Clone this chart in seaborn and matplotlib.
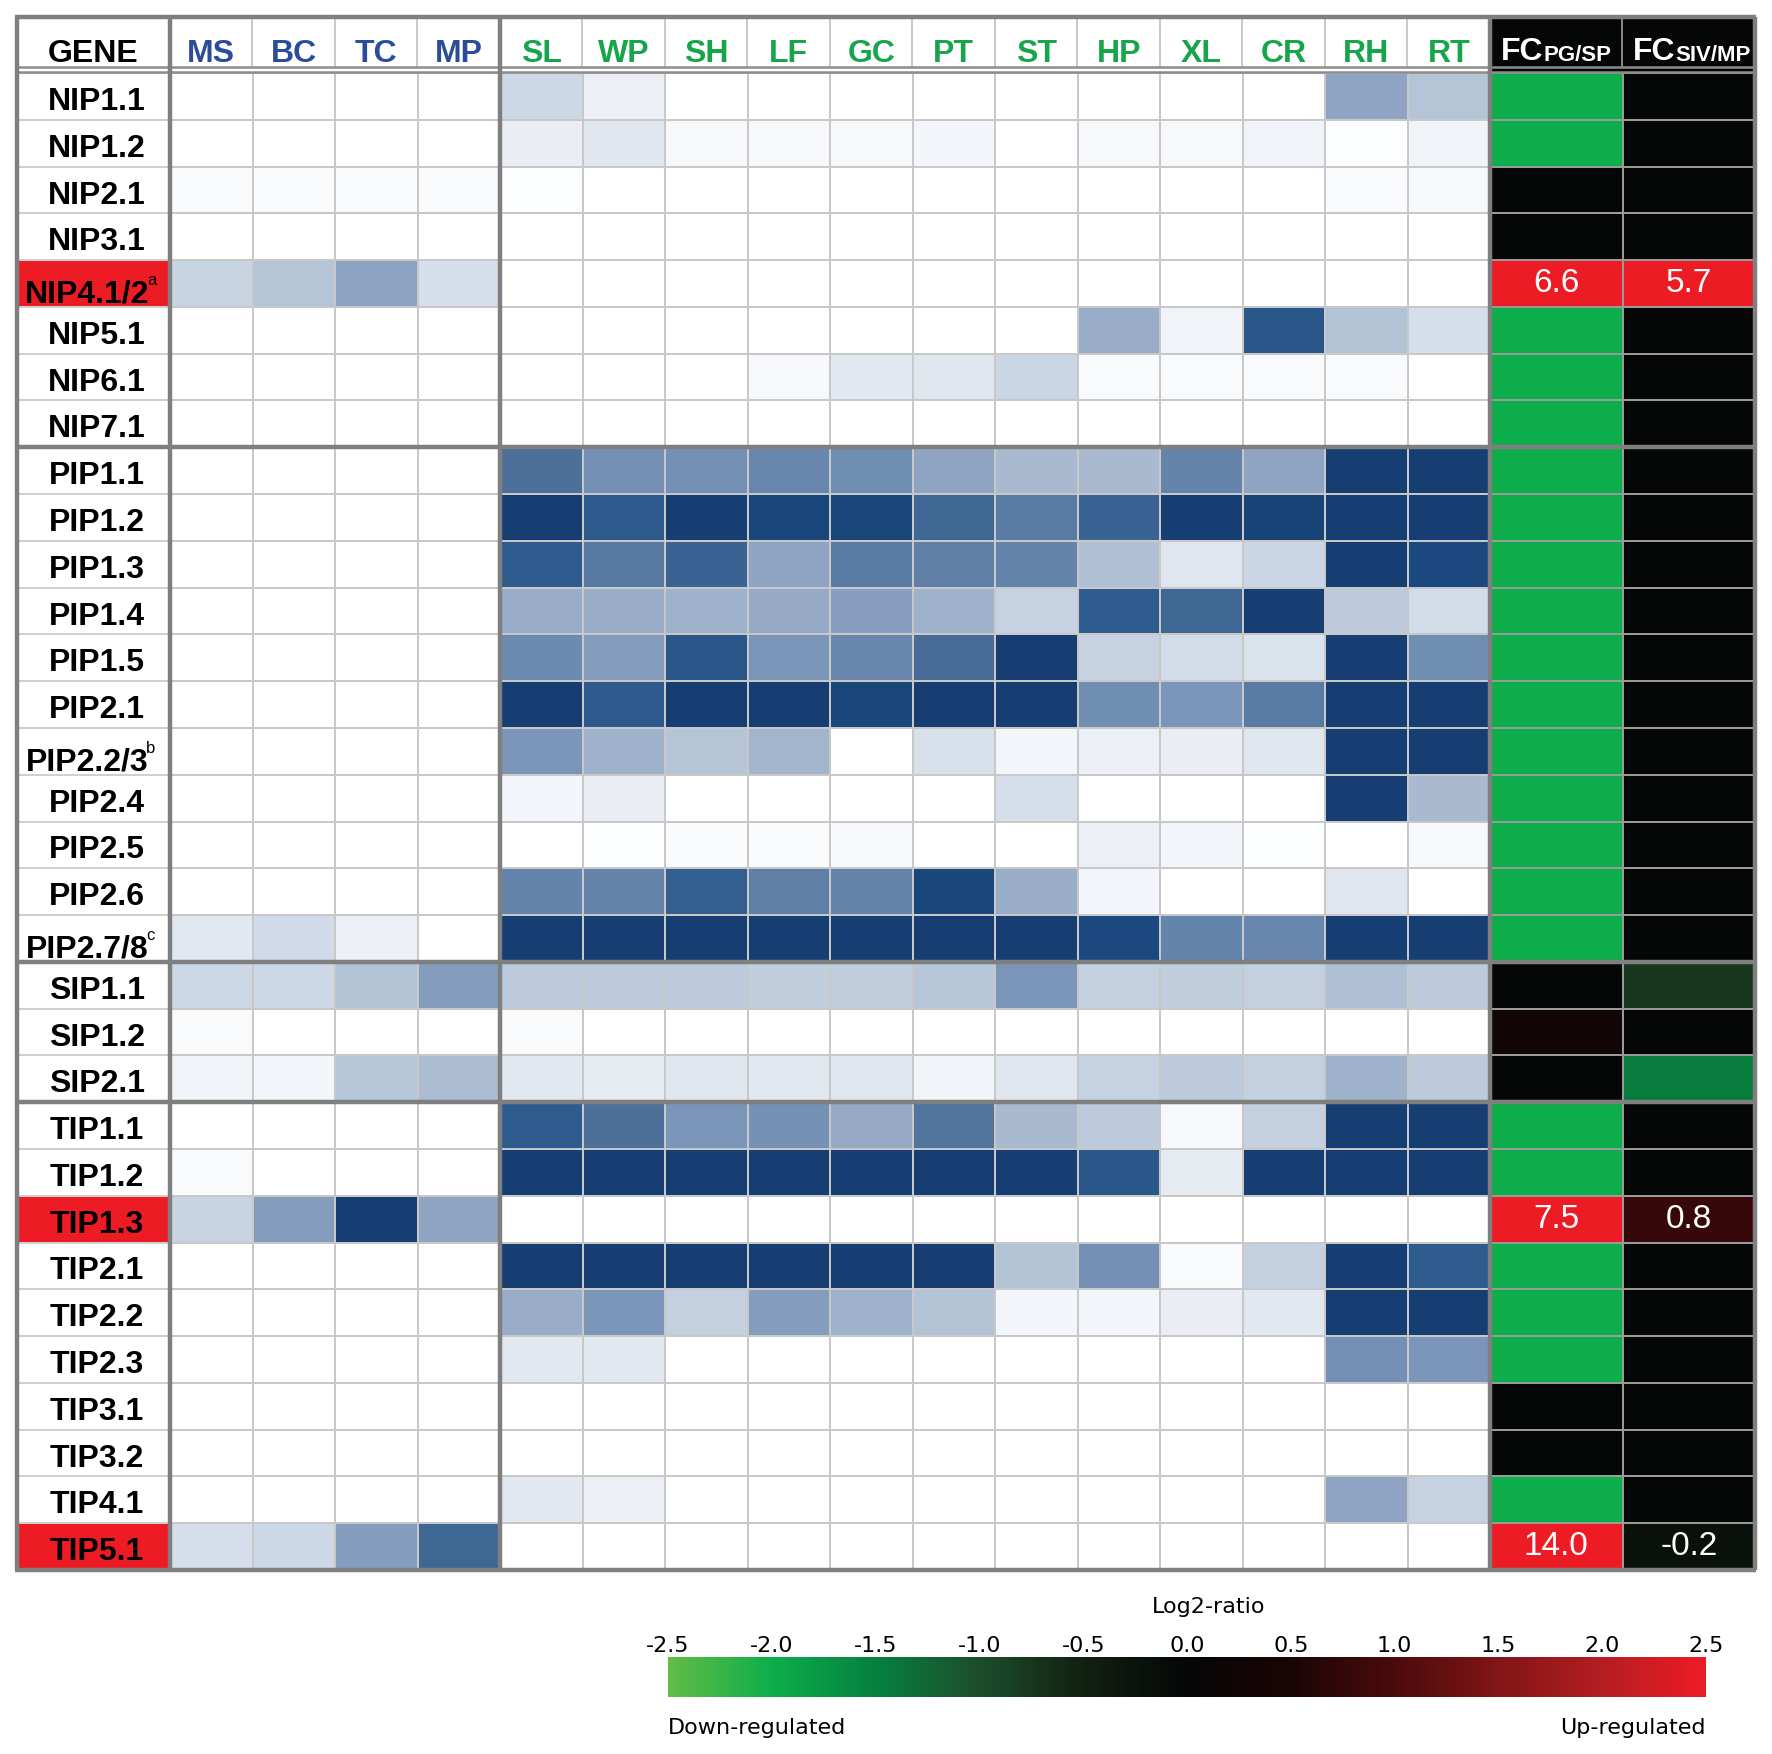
import numpy as np
import pandas as pd
import matplotlib
matplotlib.use("Agg")
import matplotlib.pyplot as plt
import seaborn as sns
from matplotlib.colors import LinearSegmentedColormap, ListedColormap

# ---------------- data ----------------
genes = ["NIP1.1", "NIP1.2", "NIP2.1", "NIP3.1", "NIP4.1/2", "NIP5.1", "NIP6.1", "NIP7.1",
         "PIP1.1", "PIP1.2", "PIP1.3", "PIP1.4", "PIP1.5", "PIP2.1", "PIP2.2/3", "PIP2.4",
         "PIP2.5", "PIP2.6", "PIP2.7/8",
         "SIP1.1", "SIP1.2", "SIP2.1",
         "TIP1.1", "TIP1.2", "TIP1.3", "TIP2.1", "TIP2.2", "TIP2.3", "TIP3.1", "TIP3.2",
         "TIP4.1", "TIP5.1"]
gene_superscripts = {"NIP4.1/2": "a", "PIP2.2/3": "b", "PIP2.7/8": "c"}
highlighted_genes = ["NIP4.1/2", "TIP1.3", "TIP5.1"]

pollen_stages = ["MS", "BC", "TC", "MP"]
sporophyte_tissues = ["SL", "WP", "SH", "LF", "GC", "PT", "ST", "HP", "XL", "CR", "RH", "RT"]

# relative expression (0 = none, 1 = highest), pollen stages
pollen_expr = [
    [0, 0, 0, 0], [0, 0, 0, 0], [0.02, 0.02, 0.02, 0.02], [0, 0, 0, 0],
    [0.19, 0.27, 0.43, 0.14], [0, 0, 0, 0], [0, 0, 0, 0], [0, 0, 0, 0],
    [0, 0, 0, 0], [0, 0, 0, 0], [0, 0, 0, 0], [0, 0, 0, 0], [0, 0, 0, 0], [0, 0, 0, 0],
    [0, 0, 0, 0], [0, 0, 0, 0], [0, 0, 0, 0], [0, 0, 0, 0], [0.09, 0.16, 0.06, 0],
    [0.17, 0.17, 0.28, 0.46], [0.02, 0, 0, 0], [0.05, 0.04, 0.26, 0.32],
    [0, 0, 0, 0], [0.02, 0, 0, 0], [0.19, 0.46, 1.0, 0.42], [0, 0, 0, 0], [0, 0, 0, 0],
    [0, 0, 0, 0], [0, 0, 0, 0], [0, 0, 0, 0], [0, 0, 0, 0], [0.14, 0.17, 0.46, 0.75],
]

# relative expression, sporophytic tissues
sporo_expr = [
    [0.17, 0.06, 0, 0, 0, 0, 0, 0, 0, 0, 0.42, 0.27],
    [0.07, 0.10, 0.03, 0.03, 0.03, 0.04, 0, 0.03, 0.03, 0.05, 0.01, 0.05],
    [0.01, 0, 0, 0, 0, 0, 0, 0, 0, 0, 0.02, 0.03],
    [0, 0, 0, 0, 0, 0, 0, 0, 0, 0, 0, 0],
    [0, 0, 0, 0, 0, 0, 0, 0, 0, 0, 0, 0],
    [0, 0, 0, 0, 0, 0, 0, 0.38, 0.05, 0.85, 0.28, 0.14],
    [0, 0, 0, 0.03, 0.09, 0.10, 0.18, 0.02, 0.02, 0.02, 0.02, 0],
    [0, 0, 0, 0, 0, 0, 0, 0, 0, 0, 0, 0],
    [0.70, 0.53, 0.53, 0.58, 0.55, 0.42, 0.33, 0.33, 0.60, 0.42, 1.0, 1.0],
    [1.0, 0.83, 1.0, 0.95, 0.95, 0.75, 0.65, 0.78, 1.0, 0.97, 1.0, 1.0],
    [0.82, 0.66, 0.78, 0.42, 0.65, 0.62, 0.60, 0.30, 0.10, 0.18, 1.0, 0.93],
    [0.38, 0.38, 0.36, 0.40, 0.45, 0.36, 0.20, 0.82, 0.75, 1.0, 0.24, 0.15],
    [0.56, 0.46, 0.85, 0.50, 0.58, 0.72, 1.0, 0.20, 0.15, 0.12, 1.0, 0.55],
    [1.0, 0.83, 1.0, 1.0, 0.95, 1.0, 1.0, 0.55, 0.50, 0.65, 1.0, 1.0],
    [0.50, 0.36, 0.27, 0.35, 0, 0.13, 0.04, 0.06, 0.07, 0.10, 1.0, 1.0],
    [0.04, 0.07, 0, 0, 0, 0, 0.14, 0, 0, 0, 1.0, 0.33],
    [0, 0.01, 0.02, 0.02, 0.03, 0, 0, 0.06, 0.04, 0.01, 0, 0.03],
    [0.60, 0.60, 0.80, 0.62, 0.60, 0.95, 0.38, 0.04, 0, 0, 0.10, 0],
    [1.0, 1.0, 1.0, 1.0, 1.0, 1.0, 1.0, 0.93, 0.60, 0.58, 1.0, 1.0],
    [0.24, 0.24, 0.24, 0.22, 0.22, 0.26, 0.50, 0.21, 0.22, 0.21, 0.30, 0.24],
    [0.02, 0, 0, 0, 0, 0, 0, 0, 0, 0, 0, 0],
    [0.09, 0.08, 0.10, 0.09, 0.10, 0.05, 0.10, 0.20, 0.24, 0.21, 0.36, 0.24],
    [0.82, 0.70, 0.50, 0.52, 0.40, 0.68, 0.33, 0.24, 0.03, 0.21, 1.0, 1.0],
    [1.0, 1.0, 1.0, 1.0, 1.0, 1.0, 1.0, 0.85, 0.08, 1.0, 1.0, 1.0],
    [0, 0, 0, 0, 0, 0, 0, 0, 0, 0, 0, 0],
    [1.0, 1.0, 1.0, 1.0, 1.0, 1.0, 0.28, 0.53, 0.02, 0.21, 1.0, 0.82],
    [0.38, 0.50, 0.21, 0.46, 0.36, 0.28, 0.04, 0.04, 0.07, 0.09, 1.0, 1.0],
    [0.09, 0.09, 0, 0, 0, 0, 0, 0, 0, 0, 0.53, 0.50],
    [0, 0, 0, 0, 0, 0, 0, 0, 0, 0, 0, 0],
    [0, 0, 0, 0, 0, 0, 0, 0, 0, 0, 0, 0],
    [0.09, 0.06, 0, 0, 0, 0, 0, 0, 0, 0, 0.42, 0.20],
    [0, 0, 0, 0, 0, 0, 0, 0, 0, 0, 0, 0],
]

# fold-change columns (log2-ratio colour scale)
fc_names = ["PG/SP", "SIV/MP"]
fc_pg_sp = [-2.0, -2.0, 0, 0, 6.6, -2.0, -2.0, -2.0,
            -2.0, -2.0, -2.0, -2.0, -2.0, -2.0, -2.0, -2.0, -2.0, -2.0, -2.0,
            0, 0.3, 0,
            -2.0, -2.0, 7.5, -2.0, -2.0, -2.0, 0, 0, -2.0, 14.0]
fc_siv_mp = [0, 0, 0, 0, 5.7, 0, 0, 0,
             0, 0, 0, 0, 0, 0, 0, 0, 0, 0, 0,
             -0.75, 0, -1.45,
             0, 0, 0.8, 0, 0, 0, 0, 0, 0, -0.2]
cbar_ticks = [-2.5, -2.0, -1.5, -1.0, -0.5, 0.0, 0.5, 1.0, 1.5, 2.0, 2.5]

# ---------------- style ----------------
plt.rcParams["font.family"] = ["Liberation Sans", "DejaVu Sans"]
plt.rcParams["axes.unicode_minus"] = False

blue_cmap = LinearSegmentedColormap.from_list("expr", [
    (0.00, "#ffffff"), (0.04, "#f2f5f9"), (0.10, "#dfe5ee"), (0.17, "#cdd8e6"),
    (0.24, "#bccadb"), (0.33, "#a8b9d0"), (0.42, "#8fa4c2"), (0.50, "#7a95b8"),
    (0.60, "#6584ab"), (0.70, "#4d7099"), (0.82, "#2e5c8e"), (0.93, "#1b4a80"),
    (1.00, "#163e72")])
fc_cmap = LinearSegmentedColormap.from_list("fc", [
    (0.0, "#62bb47"), (0.1, "#0cad4b"), (0.2, "#05803f"), (0.3, "#1d4d2a"),
    (0.4, "#122012"), (0.5, "#050606"), (0.6, "#1a0505"), (0.7, "#4a0a0b"),
    (0.8, "#801516"), (0.9, "#b31d22"), (1.0, "#ed1c24")])
POLLEN_COLOR = "#2b4c9b"
SPORO_COLOR = "#17a54a"
GRID = "#c8c8c8"
SECTION = "#7f7f7f"

# ---------------- layout (pixels) ----------------
W, H = 1772, 1754
X_L, X_G, X_B, X_R = 17, 170, 1490, 1755
Y_T, Y_H, Y_B = 17, 73, 1570
n_rows = len(genes)
row_h = (Y_B - Y_H) / n_rows
col_w = (X_B - X_G) / (len(pollen_stages) + len(sporophyte_tissues))

fig = plt.figure(figsize=(W / 100, H / 100), dpi=100)
fig.patch.set_facecolor("white")


def px_axes(x0, y0, x1, y1, **kw):
    return fig.add_axes([x0 / W, 1 - y1 / H, (x1 - x0) / W, (y1 - y0) / H], **kw)


# background axes (header fills)
ax_bg = px_axes(0, 0, W, H, zorder=-5)
ax_bg.set_xlim(0, W)
ax_bg.set_ylim(H, 0)
ax_bg.axis("off")
ax_bg.axvspan(X_B, X_R, ymin=1 - Y_H / H, ymax=1 - Y_T / H, color="#050606", lw=0)

# ---------------- gene column ----------------
ax_gene = px_axes(X_L, Y_H, X_G, Y_B)
gene_flag = pd.DataFrame({"GENE": [1 if g in highlighted_genes else 0 for g in genes]},
                         index=genes)
sns.heatmap(gene_flag, ax=ax_gene, cmap=ListedColormap(["#ffffff", "#ed1c24"]),
            vmin=0, vmax=1, cbar=False, linewidths=1.4, linecolor="#d0d0d0",
            xticklabels=["GENE"], yticklabels=False)
for i, g in enumerate(genes):
    sup = gene_superscripts.get(g)
    if sup:
        t = ax_gene.text(0.46, i + 0.90, g, ha="center", va="baseline",
                         fontsize=23, fontweight="bold", color="black")
        ax_gene.annotate(sup, xy=(1, 0.80), xycoords=t, xytext=(-2, 0),
                         textcoords="offset points", ha="left", va="baseline",
                         fontsize=12, color="black")
    else:
        ax_gene.text(0.52, i + 0.79, g, ha="center", va="baseline",
                     fontsize=23, fontweight="bold", color="black")

# ---------------- expression heatmap ----------------
ax_blue = px_axes(X_G, Y_H, X_B, Y_B)
expr_df = pd.concat([pd.DataFrame(pollen_expr, index=genes, columns=pollen_stages),
                     pd.DataFrame(sporo_expr, index=genes, columns=sporophyte_tissues)],
                    axis=1)
sns.heatmap(expr_df, ax=ax_blue, cmap=blue_cmap, vmin=0, vmax=1, cbar=False,
            linewidths=1.4, linecolor=GRID, xticklabels=True, yticklabels=False)

# ---------------- fold-change heatmap ----------------
ax_fc = px_axes(X_B, Y_H, X_R, Y_B)
fc_df = pd.DataFrame({"PG/SP": fc_pg_sp, "SIV/MP": fc_siv_mp}, index=genes)
show = np.isin(genes, highlighted_genes)[:, None]
annot_text = np.where(show, fc_df.map(lambda v: f"{v:.1f}").values, "")
sns.heatmap(fc_df, ax=ax_fc, cmap=fc_cmap, vmin=-2.5, vmax=2.5, cbar=False,
            annot=annot_text, fmt="", annot_kws=dict(fontsize=24, color="white"),
            linewidths=1.4, linecolor="#9a9a9a", xticklabels=False, yticklabels=False)
# FC header: "FC" with baseline-aligned small subscript
for j, name in enumerate(fc_names):
    t = ax_fc.text(j + 0.08, -0.28, "FC", ha="left", va="baseline", fontsize=23,
                   fontweight="bold", color="white", clip_on=False)
    ax_fc.annotate(name, xy=(1, 0.19), xycoords=t, ha="left", va="baseline",
                   fontsize=16, fontweight="bold", color="white", annotation_clip=False)

# header labels on top
for ax in (ax_gene, ax_blue):
    ax.xaxis.tick_top()
    ax.tick_params(axis="x", length=0, pad=3)
    for lbl in ax.get_xticklabels():
        lbl.set_rotation(0)
        lbl.set_fontsize(23)
        lbl.set_fontweight("bold")
for lbl in ax_gene.get_xticklabels():
    lbl.set_color("black")
for lbl in ax_blue.get_xticklabels():
    lbl.set_color(POLLEN_COLOR if lbl.get_text() in pollen_stages else SPORO_COLOR)

# ---------------- grid / section lines ----------------
ax_top = px_axes(0, 0, W, H, zorder=10)
ax_top.set_xlim(0, W)
ax_top.set_ylim(H, 0)
ax_top.axis("off")
ax_top.patch.set_alpha(0)
n_cols = len(pollen_stages) + len(sporophyte_tissues)
hdr_x = [X_G + k * col_w for k in range(1, n_cols) if k != len(pollen_stages)]
ax_top.vlines(hdr_x, Y_T, Y_H - 6, color=GRID, lw=1.4)
ax_top.vlines([(X_B + X_R) / 2], Y_T, Y_H - 6, color="#8a8a8a", lw=1.4)
ax_top.hlines([Y_H - 6.5, Y_H - 1.5], X_L, X_R, color="#8c8c8c", lw=1.8)
sec_y = [Y_H + k * row_h for k in (8, 19, 22)]
ax_top.hlines(sec_y, X_L, X_R, color=SECTION, lw=3.2)
ax_top.vlines([X_L, X_G, X_G + len(pollen_stages) * col_w, X_B, X_R], Y_T, Y_B,
              color=SECTION, lw=3.2)
ax_top.hlines([Y_T, Y_B], X_L - 1.5, X_R + 1.5, color=SECTION, lw=3.2)

# ---------------- colour bar ----------------
cax = px_axes(668, 1657, 1706, 1697)
cb = fig.colorbar(ax_fc.collections[0], cax=cax, orientation="horizontal",
                  ticks=cbar_ticks)
cb.outline.set_visible(False)
cax.xaxis.set_ticks_position("top")
cax.tick_params(length=0, pad=1)
cb.set_ticklabels([f"{t:.1f}" for t in cbar_ticks])
for lbl in cax.get_xticklabels():
    lbl.set_fontfamily("DejaVu Sans")
    lbl.set_fontsize(16)
cax.text(0.521, 2.25, "Log2-ratio", transform=cax.transAxes, ha="center", va="center",
         fontsize=16, family="DejaVu Sans")
cax.text(0.0, -0.78, "Down-regulated", transform=cax.transAxes, ha="left", va="center",
         fontsize=16, family="DejaVu Sans")
cax.text(1.0, -0.78, "Up-regulated", transform=cax.transAxes, ha="right", va="center",
         fontsize=16, family="DejaVu Sans")

fig.savefig("out.png", dpi=100, facecolor="white")
